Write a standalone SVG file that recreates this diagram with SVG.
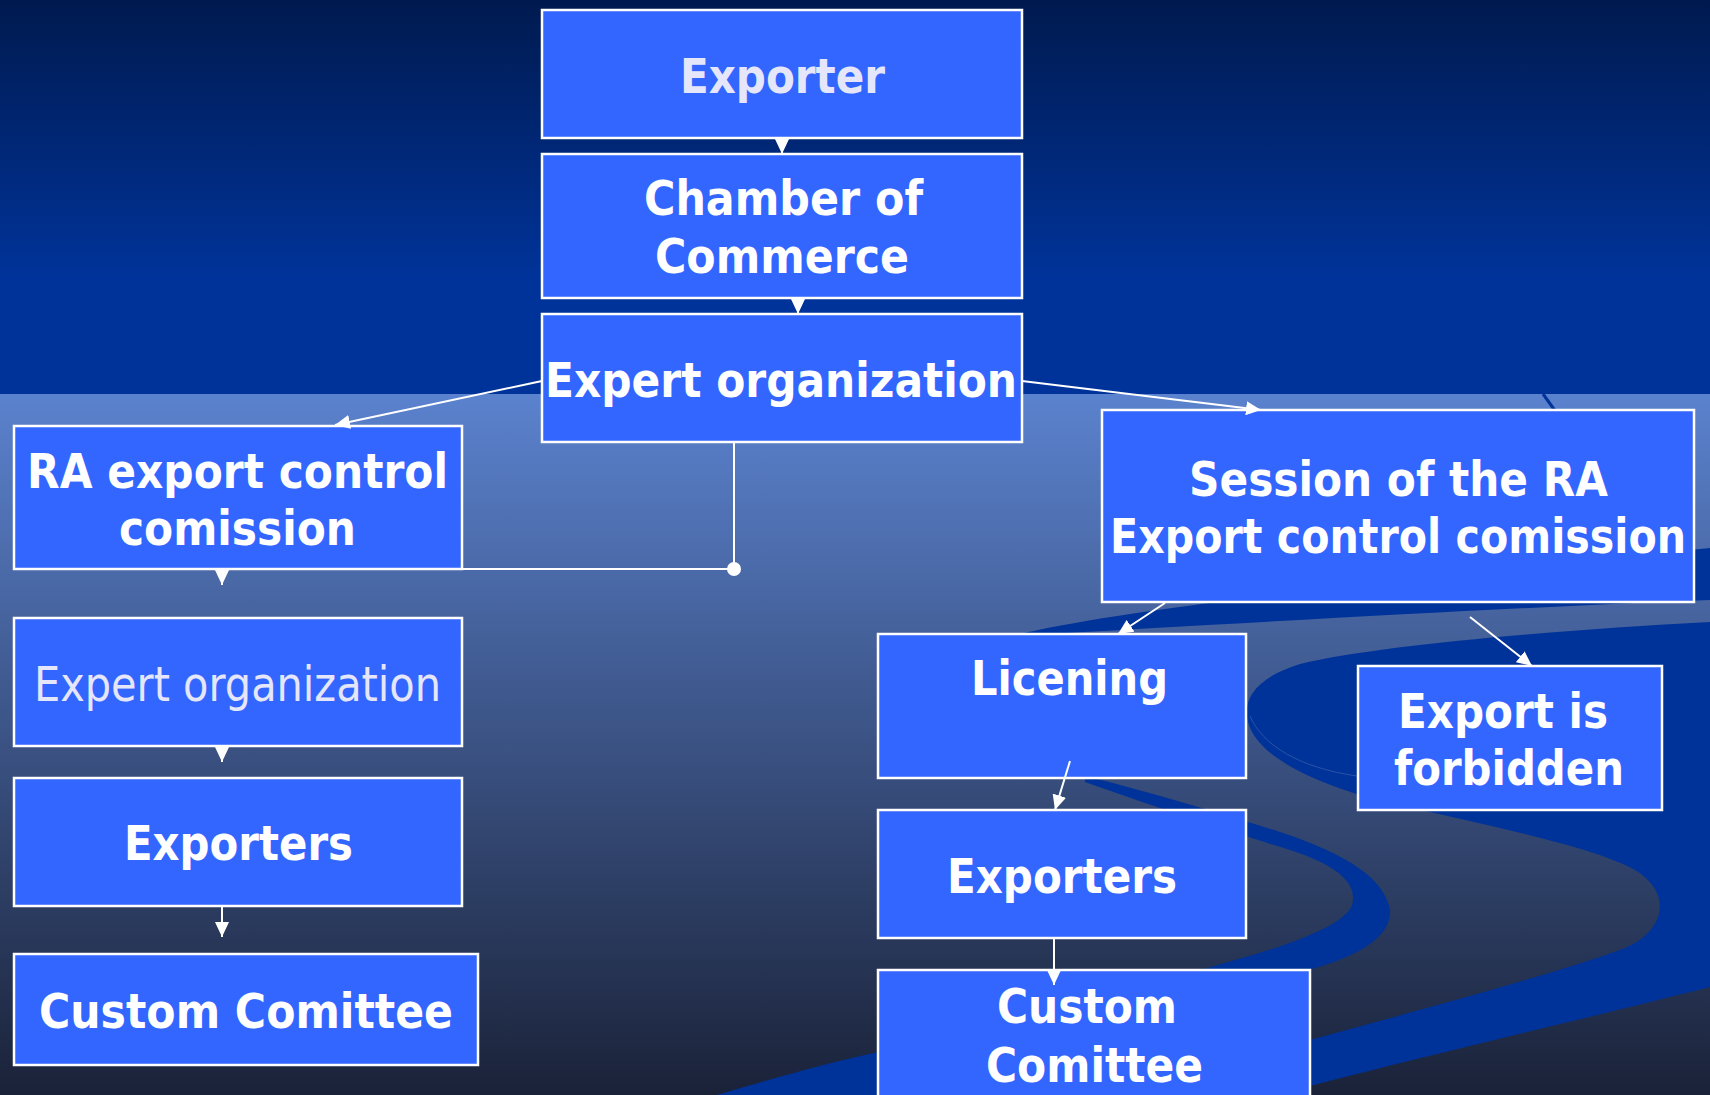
<svg xmlns="http://www.w3.org/2000/svg" width="1710" height="1095" viewBox="0 0 1710 1095">
<defs>
<linearGradient id="gTop" x1="0" y1="0" x2="0" y2="394" gradientUnits="userSpaceOnUse">
<stop offset="0" stop-color="#001a4f"/>
<stop offset="0.7" stop-color="#003399"/>
<stop offset="1" stop-color="#003399"/>
</linearGradient>
<linearGradient id="gBot" x1="0" y1="394" x2="0" y2="1095" gradientUnits="userSpaceOnUse">
<stop offset="0" stop-color="#5b82ce"/>
<stop offset="1" stop-color="#1a2238"/>
</linearGradient>
<marker id="ah" viewBox="0 0 15 14" refX="15" refY="7" markerWidth="15" markerHeight="14" markerUnits="userSpaceOnUse" orient="auto">
<path d="M0,0 L15,7 L0,14 Z" fill="#ffffff"/>
</marker>
</defs>
<style>
.box{fill:#3366ff;stroke:#ffffff;stroke-width:2.5}
.t{font-family:"DejaVu Sans","Liberation Sans",sans-serif;font-size:48px;font-weight:bold;fill:#ffffff}
.lav{fill:#e6e6fa}
.reg{font-weight:normal}
.con{stroke:#ffffff;stroke-width:2;fill:none}
.rib{fill:#003399}
</style>
<g id="background">
<rect x="0" y="0" width="1710" height="394" fill="url(#gTop)"/>
<rect x="0" y="394" width="1710" height="701" fill="url(#gBot)"/>
<line x1="1543" y1="394" x2="1556" y2="412" stroke="#003399" stroke-width="3"/>
<path class="rib" d="M1012,636 C1110,612 1300,590 1710,548 L1710,600 C1500,608 1300,620 1012,636 Z"/>
<path class="rib" d="M1710,622 C1560,630 1380,645 1300,664 C1255,678 1242,700 1248,722 C1256,752 1300,778 1370,798 C1470,822 1590,845 1635,870 C1672,892 1668,932 1620,950 C1540,978 1420,1010 1310,1040 C1200,1070 1120,1090 1080,1100 L1250,1100 C1290,1092 1300,1090 1310,1086 C1450,1050 1600,1015 1710,987 Z"/>
<path d="M1250,716 C1262,745 1300,768 1357,776" fill="none" stroke="#2a52a8" stroke-width="1"/>
<path class="rib" d="M1085,776 C1150,792 1210,810 1280,832 C1350,855 1385,880 1390,910 C1392,940 1350,960 1300,972 C1250,985 1150,1040 1080,1100 L700,1100 C800,1070 850,1058 878,1052 C1000,1020 1150,985 1235,960 C1290,945 1345,925 1352,905 C1358,885 1340,866 1290,850 C1200,822 1150,805 1085,782 Z"/>
</g>
<g id="node-exporter">
<rect class="box" x="542" y="10" width="480" height="128"/>
<text class="t lav" x="680" y="93" textLength="205" lengthAdjust="spacingAndGlyphs">Exporter</text>
</g>
<g id="node-chamber">
<rect class="box" x="542" y="154" width="480" height="144"/>
<text class="t" x="644" y="215" textLength="279" lengthAdjust="spacingAndGlyphs">Chamber of</text>
<text class="t" x="655" y="273" textLength="254" lengthAdjust="spacingAndGlyphs">Commerce</text>
</g>
<g id="node-expert-top">
<rect class="box" x="542" y="314" width="480" height="128"/>
<text class="t" x="545" y="397" textLength="472" lengthAdjust="spacingAndGlyphs">Expert organization</text>
</g>
<g id="node-ra-commission">
<rect class="box" x="14" y="426" width="448" height="143"/>
<text class="t" x="27" y="488" textLength="421" lengthAdjust="spacingAndGlyphs">RA export control</text>
<text class="t" x="119" y="545" textLength="237" lengthAdjust="spacingAndGlyphs">comission</text>
</g>
<g id="node-expert-left">
<rect class="box" x="14" y="618" width="448" height="128"/>
<text class="t lav reg" x="34" y="701" textLength="407" lengthAdjust="spacingAndGlyphs">Expert organization</text>
</g>
<g id="node-exporters-left">
<rect class="box" x="14" y="778" width="448" height="128"/>
<text class="t" x="124" y="860" textLength="229" lengthAdjust="spacingAndGlyphs">Exporters</text>
</g>
<g id="node-custom-left">
<rect class="box" x="14" y="954" width="464" height="111"/>
<text class="t" x="39" y="1028" textLength="414" lengthAdjust="spacingAndGlyphs">Custom Comittee</text>
</g>
<g id="node-session">
<rect class="box" x="1102" y="410" width="592" height="192"/>
<text class="t" x="1189" y="496" textLength="419" lengthAdjust="spacingAndGlyphs">Session of the RA</text>
<text class="t" x="1110" y="553" textLength="576" lengthAdjust="spacingAndGlyphs">Export control comission</text>
</g>
<g id="node-licening">
<rect class="box" x="878" y="634" width="368" height="144"/>
<text class="t" x="971" y="695" textLength="197" lengthAdjust="spacingAndGlyphs">Licening</text>
</g>
<g id="node-forbidden">
<rect class="box" x="1358" y="666" width="304" height="144"/>
<text class="t" x="1398" y="728" textLength="210" lengthAdjust="spacingAndGlyphs">Export is</text>
<text class="t" x="1394" y="785" textLength="230" lengthAdjust="spacingAndGlyphs">forbidden</text>
</g>
<g id="node-exporters-right">
<rect class="box" x="878" y="810" width="368" height="128"/>
<text class="t" x="947" y="893" textLength="230" lengthAdjust="spacingAndGlyphs">Exporters</text>
</g>
<g id="node-custom-right">
<rect class="box" x="878" y="970" width="432" height="140"/>
<text class="t" x="997" y="1023" textLength="180" lengthAdjust="spacingAndGlyphs">Custom</text>
<text class="t" x="986" y="1082" textLength="217" lengthAdjust="spacingAndGlyphs">Comittee</text>
</g>
<g id="connectors">
<line class="con" x1="782" y1="139" x2="782" y2="154" marker-end="url(#ah)"/>
<line class="con" x1="798" y1="299" x2="798" y2="314" marker-end="url(#ah)"/>
<line class="con" x1="542" y1="381" x2="335" y2="425" marker-end="url(#ah)"/>
<line class="con" x1="1022" y1="381" x2="1261" y2="410" marker-end="url(#ah)"/>
<polyline class="con" points="734,443 734,569 462,569"/>
<circle cx="734" cy="569" r="7" fill="#ffffff"/>
<line class="con" x1="222" y1="570" x2="222" y2="585" marker-end="url(#ah)"/>
<line class="con" x1="222" y1="747" x2="222" y2="762" marker-end="url(#ah)"/>
<line class="con" x1="222" y1="907" x2="222" y2="937" marker-end="url(#ah)"/>
<line class="con" x1="1165" y1="603" x2="1118" y2="634" marker-end="url(#ah)"/>
<line class="con" x1="1470" y1="617" x2="1532" y2="666" marker-end="url(#ah)"/>
<line class="con" x1="1070" y1="761" x2="1055" y2="810" marker-end="url(#ah)"/>
<line class="con" x1="1054" y1="939" x2="1054" y2="985" marker-end="url(#ah)"/>
</g>
</svg>
